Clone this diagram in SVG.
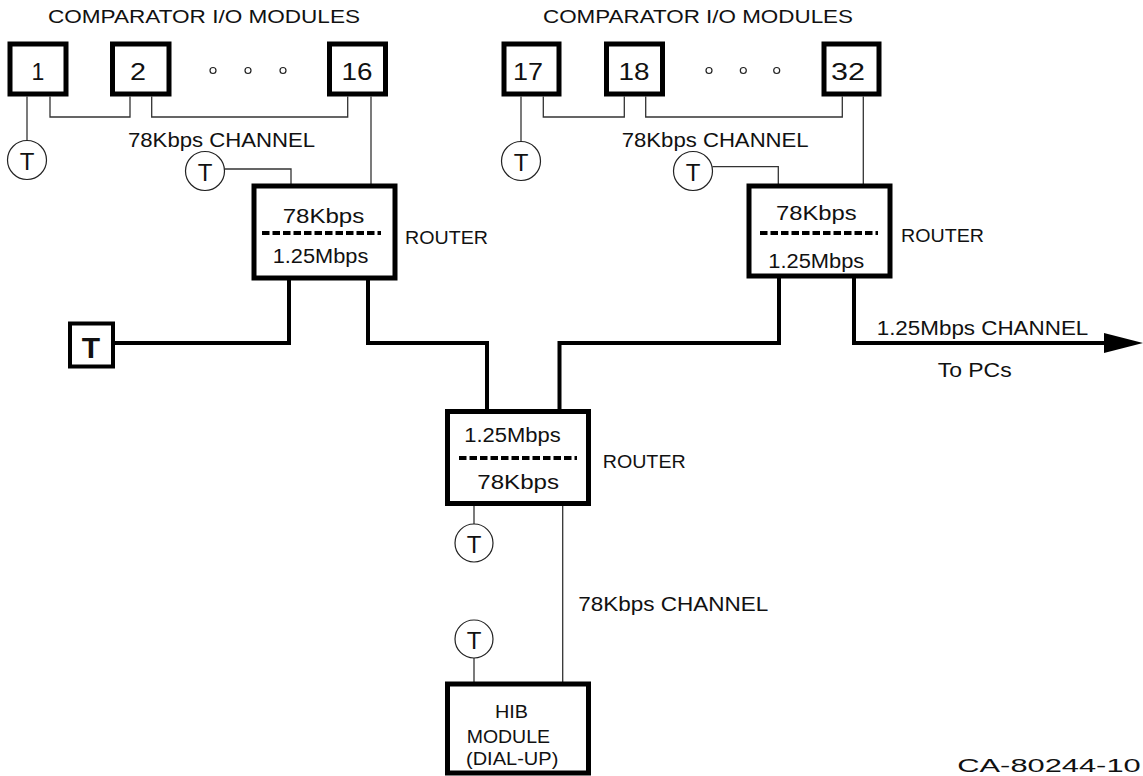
<svg xmlns="http://www.w3.org/2000/svg" width="1143" height="776" viewBox="0 0 1143 776">
<style>
text{font-family:"Liberation Sans",Arial,sans-serif;fill:#111}
.box{fill:#fff;stroke:#000;stroke-width:5}
.thin{fill:none;stroke:#333;stroke-width:1.3}
.thick{fill:none;stroke:#000;stroke-width:4}
.dash{fill:none;stroke:#000;stroke-width:4;stroke-dasharray:7.5 3}
.term{fill:#fff;stroke:#222;stroke-width:1.2}
.dot{fill:#fff;stroke:#222;stroke-width:1.2}
.tt{font-size:24px}
.num{font-size:23px}
.t19{font-size:19.5px}
.t17{font-size:17.5px}
.hib{font-size:18.5px}
</style>
<rect width="1143" height="776" fill="#fff"/>
<g id="connectors">
<path class="thin" d="M27,96.5V140.5"/>
<path class="thin" d="M50,96.5V117H130V96.5"/>
<path class="thin" d="M151.7,96.5V117H347.7V96.5"/>
<path class="thin" d="M371,96.5V186"/>
<path class="thin" d="M224.5,169H291V186"/>
<path class="thin" d="M521,96.5V141.5"/>
<path class="thin" d="M543.3,96.5V117H624.3V96.5"/>
<path class="thin" d="M645.7,96.5V117H842.3V96.5"/>
<path class="thin" d="M863.3,96.5V186"/>
<path class="thin" d="M712.5,166.7H778.3V186"/>
<path class="thin" d="M474,506V524"/>
<path class="thin" d="M562.7,506V684"/>
<path class="thin" d="M474,658V684"/>
<path class="thick" d="M289,280V343H115"/>
<path class="thick" d="M368,280V343H487V409"/>
<path class="thick" d="M779,278V343H559.5V409"/>
<path class="thick" d="M854,278V343H1106"/>
<polygon points="1104,333 1143,343 1104,353" fill="#000"/>
</g>
<g id="labels">
<text class="t17" x="48" y="23" textLength="312" lengthAdjust="spacingAndGlyphs">COMPARATOR I/O MODULES</text>
<text class="t17" x="543" y="23" textLength="310" lengthAdjust="spacingAndGlyphs">COMPARATOR I/O MODULES</text>
<text class="t19" x="128" y="146.7" textLength="187" lengthAdjust="spacingAndGlyphs">78Kbps CHANNEL</text>
<text class="t19" x="621.7" y="146.7" textLength="187" lengthAdjust="spacingAndGlyphs">78Kbps CHANNEL</text>
<text class="t19" x="578.3" y="610.7" textLength="190" lengthAdjust="spacingAndGlyphs">78Kbps CHANNEL</text>
<text class="t19" x="876.7" y="335" textLength="211.6" lengthAdjust="spacingAndGlyphs">1.25Mbps CHANNEL</text>
<text class="t19" x="937.7" y="376.7" textLength="74" lengthAdjust="spacingAndGlyphs">To PCs</text>
<text class="t17" x="405" y="244" textLength="83" lengthAdjust="spacingAndGlyphs">ROUTER</text>
<text class="t17" x="901" y="241.7" textLength="83" lengthAdjust="spacingAndGlyphs">ROUTER</text>
<text class="t17" x="602.7" y="467.7" textLength="83" lengthAdjust="spacingAndGlyphs">ROUTER</text>
<text style="font-size:18px" x="957.3" y="771.7" textLength="183.4" lengthAdjust="spacingAndGlyphs">CA-80244-10</text>
<circle class="dot" cx="213" cy="70.5" r="3"/>
<circle class="dot" cx="248" cy="70.5" r="3"/>
<circle class="dot" cx="283" cy="70.5" r="3"/>
<circle class="dot" cx="709" cy="70.5" r="3"/>
<circle class="dot" cx="743.3" cy="70.5" r="3"/>
<circle class="dot" cx="776.7" cy="70.5" r="3"/>
</g>
<g id="m1"><rect class="box" x="10" y="44" width="56" height="50"/><text class="num" x="38" y="79.7" text-anchor="middle">1</text></g>
<g id="m2"><rect class="box" x="112.5" y="44" width="56.5" height="50"/><text class="num" x="138" y="79.7" text-anchor="middle" textLength="16" lengthAdjust="spacingAndGlyphs">2</text></g>
<g id="m16"><rect class="box" x="329.5" y="44" width="56" height="50"/><text class="num" x="357" y="79.7" text-anchor="middle" textLength="31" lengthAdjust="spacingAndGlyphs">16</text></g>
<g id="m17"><rect class="box" x="504" y="44" width="55" height="50"/><text class="num" x="528" y="79.7" text-anchor="middle" textLength="30" lengthAdjust="spacingAndGlyphs">17</text></g>
<g id="m18"><rect class="box" x="606.5" y="44" width="56" height="50"/><text class="num" x="634" y="79.7" text-anchor="middle" textLength="31" lengthAdjust="spacingAndGlyphs">18</text></g>
<g id="m32"><rect class="box" x="824" y="44" width="55" height="50"/><text class="num" x="848" y="79.7" text-anchor="middle" textLength="34" lengthAdjust="spacingAndGlyphs">32</text></g>
<g id="t1"><circle class="term" cx="27" cy="160" r="19.5"/><text class="tt" x="27" y="170" text-anchor="middle">T</text></g>
<g id="t2"><circle class="term" cx="205" cy="171" r="19.5"/><text class="tt" x="205" y="181" text-anchor="middle">T</text></g>
<g id="t3"><circle class="term" cx="521" cy="161" r="19.5"/><text class="tt" x="521" y="171" text-anchor="middle">T</text></g>
<g id="t4"><circle class="term" cx="693" cy="171" r="19.5"/><text class="tt" x="693" y="181" text-anchor="middle">T</text></g>
<g id="t5"><circle class="term" cx="474" cy="543" r="19"/><text class="tt" x="474" y="553" text-anchor="middle">T</text></g>
<g id="t6"><circle class="term" cx="474" cy="639" r="19"/><text class="tt" x="474" y="649" text-anchor="middle">T</text></g>
<g id="tbox"><rect x="70" y="323.5" width="43" height="43" fill="#fff" stroke="#000" stroke-width="4"/><text x="91" y="358.3" text-anchor="middle" style="font-size:30px;font-weight:bold">T</text></g>
<g id="router-left">
<rect class="box" x="254" y="186" width="141" height="92"/>
<text class="t19" x="282.7" y="223" textLength="81.6" lengthAdjust="spacingAndGlyphs">78Kbps</text>
<path class="dash" d="M262,233H381"/>
<text class="t19" x="272.7" y="262.7" textLength="95.6" lengthAdjust="spacingAndGlyphs">1.25Mbps</text>
</g>
<g id="router-right">
<rect class="box" x="749" y="186" width="141" height="90"/>
<text class="t19" x="776" y="220" textLength="80.7" lengthAdjust="spacingAndGlyphs">78Kbps</text>
<path class="dash" d="M760,233H878"/>
<text class="t19" x="768.3" y="268.3" textLength="96" lengthAdjust="spacingAndGlyphs">1.25Mbps</text>
</g>
<g id="router-center">
<rect class="box" x="447.5" y="411.5" width="141" height="92"/>
<text class="t19" x="464.3" y="441.7" textLength="96.4" lengthAdjust="spacingAndGlyphs">1.25Mbps</text>
<path class="dash" d="M459,458H577"/>
<text class="t19" x="477.3" y="489.3" textLength="81.7" lengthAdjust="spacingAndGlyphs">78Kbps</text>
</g>
<g id="hib">
<rect class="box" x="447.5" y="684" width="141" height="89"/>
<text class="hib" x="495" y="717.7" textLength="33" lengthAdjust="spacingAndGlyphs">HIB</text>
<text class="hib" x="466.7" y="743.3" textLength="83.3" lengthAdjust="spacingAndGlyphs">MODULE</text>
<text class="hib" x="466" y="765" textLength="92.3" lengthAdjust="spacingAndGlyphs">(DIAL-UP)</text>
</g>
</svg>
